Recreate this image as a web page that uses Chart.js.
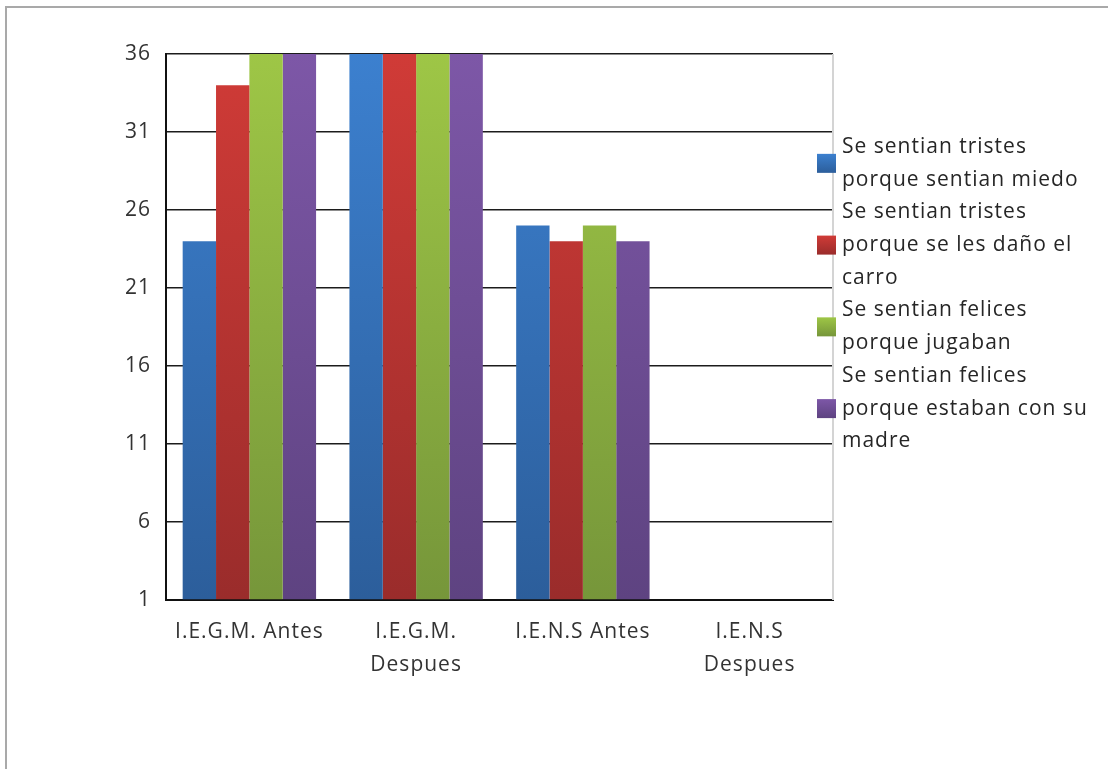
<!DOCTYPE html>
<html>
<head>
<meta charset="utf-8">
<script src="https://cdn.jsdelivr.net/npm/chart.js@4/dist/chart.umd.min.js"></script>
<style>
  html, body { margin: 0; padding: 0; background: #fff; }
  #wrap { position: relative; width: 1108px; height: 769px; }
  #frame {
    position: absolute; left: 5px; top: 6px; right: 0; bottom: 0;
    border-top: 2px solid #a9a9a9; border-left: 2px solid #a9a9a9;
    pointer-events: none;
  }
  canvas { position: absolute; left: 0; top: 0; }
</style>
</head>
<body>
<div id="wrap">
  <canvas id="chart" width="1108" height="769"></canvas>
  <div id="frame"></div>
</div>
<script>
'use strict';

// categories (multi-line where the picture wraps them)
const categories = [
    'I.E.G.M. Antes',
    ['I.E.G.M.', 'Despues'],
    'I.E.N.S Antes',
    ['I.E.N.S', 'Despues'],
];

// series labels, wrapped as in the legend
const seriesLabels = [
    ['Se sentian tristes', 'porque sentian miedo'],
    ['Se sentian tristes', 'porque se les daño el', 'carro'],
    ['Se sentian felices', 'porque jugaban'],
    ['Se sentian felices', 'porque estaban con su', 'madre'],
];

// series values
const tristesMiedo = [24, 36, 25, null];
const tristesCarro = [34, 36, 24, null];
const felicesJugaban = [36, 36, 25, null];
const felicesMadre = [36, 36, 24, null];

// y axis
const yMin = 1;
const yMax = 36;
const yStep = 5;

// gradient colours [top, bottom]
const seriesColors = [
    ['#3c80cf', '#2c5e9b'],
    ['#d03b37', '#9a2c2b'],
    ['#9ec646', '#76963a'],
    ['#7d57a7', '#5e4381'],
];

const FONT = "'Open Sans', 'Noto Sans', sans-serif";
const FONT_SIZE = 21;
const SPACING = '1px';

function gradientFor(idx) {
    return (context) => {
        const chart = context.chart;
        const area = chart.chartArea;
        if (!area) {
            return seriesColors[idx][0];
        }
        const g = chart.ctx.createLinearGradient(0, area.top, 0, area.bottom);
        g.addColorStop(0, seriesColors[idx][0]);
        g.addColorStop(1, seriesColors[idx][1]);
        return g;
    };
}

// the original text is set wide, so space the letters a little
const wideText = {
    id: 'wideText',
    beforeLayout(chart) {
        chart.ctx.letterSpacing = SPACING;
    },
    beforeDraw(chart) {
        chart.ctx.letterSpacing = SPACING;
    },
};

// legend drawn at the right, multi-line labels
const sideLegend = {
    id: 'sideLegend',
    afterDraw(chart) {
        const ctx = chart.ctx;
        const area = chart.chartArea;
        // light right border of plot area
        ctx.save();
        ctx.strokeStyle = '#d4d4d4';
        ctx.lineWidth = 2;
        ctx.beginPath();
        ctx.moveTo(area.right, area.top);
        ctx.lineTo(area.right, area.bottom);
        ctx.stroke();

        const lineH = 32.7;
        const boxSize = 19;
        const boxX = 817;
        const textX = 842;
        let y = 147;
        ctx.font = FONT_SIZE + 'px ' + FONT;
        ctx.letterSpacing = SPACING;
        ctx.textBaseline = 'middle';
        ctx.textAlign = 'left';
        chart.data.datasets.forEach((ds, i) => {
            const lines = ds.label;
            const center = y + (lines.length - 1) * lineH / 2;
            const g = ctx.createLinearGradient(0, center - boxSize / 2, 0, center + boxSize / 2);
            g.addColorStop(0, seriesColors[i][0]);
            g.addColorStop(1, seriesColors[i][1]);
            ctx.fillStyle = g;
            ctx.fillRect(boxX, center - boxSize / 2, boxSize, boxSize);
            ctx.fillStyle = '#262626';
            lines.forEach((line, j) => {
                ctx.fillText(line, textX, y + j * lineH);
            });
            y += lines.length * lineH;
        });
        ctx.restore();
    },
};

const allSeries = [tristesMiedo, tristesCarro, felicesJugaban, felicesMadre];

new Chart(document.getElementById('chart').getContext('2d'), {
    type: 'bar',
    data: {
        labels: categories,
        datasets: allSeries.map((values, i) => ({
            label: seriesLabels[i],
            data: values,
            base: yMin,
            backgroundColor: gradientFor(i),
            borderWidth: 0,
            categoryPercentage: 0.8,
            barPercentage: 1.0,
        })),
    },
    options: {
        responsive: false,
        animation: false,
        layout: {
            padding: { top: 54, right: 275, bottom: 0, left: 0 },
        },
        plugins: {
            legend: { display: false },
            tooltip: { enabled: false },
        },
        scales: {
            x: {
                grid: { display: false, drawTicks: false },
                border: { color: '#111', width: 2 },
                ticks: {
                    color: '#333',
                    padding: 16,
                    maxRotation: 0,
                    autoSkip: false,
                    font: { family: FONT, size: FONT_SIZE, lineHeight: 1.55 },
                },
                afterFit(scale) {
                    scale.height = 169;
                },
            },
            y: {
                min: yMin,
                max: yMax,
                grid: { color: '#1c1c1c', lineWidth: 1.5, drawTicks: false },
                border: { color: '#111', width: 2 },
                ticks: {
                    stepSize: yStep,
                    color: '#333',
                    padding: 15,
                    font: { family: FONT, size: FONT_SIZE },
                },
                afterFit(scale) {
                    scale.width = 166;
                },
            },
        },
    },
    plugins: [wideText, sideLegend],
});
</script>
</body>
</html>
